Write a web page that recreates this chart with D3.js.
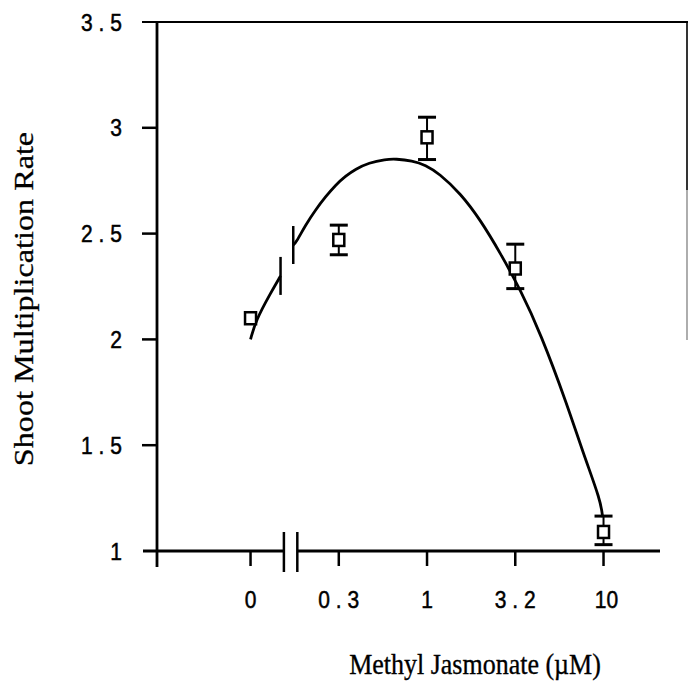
<!DOCTYPE html>
<html>
<head>
<meta charset="utf-8">
<script src="https://cdn.jsdelivr.net/npm/d3@7"></script>
<style>
  body { margin: 0; background: #fff; }
  svg { display: block; }
  .tick-label { font-family: "Liberation Sans", Arial, sans-serif; font-size: 21px; fill: #000; stroke: #000; stroke-width: 0.45px; }
  .axis-title { font-family: "Liberation Serif", "Times New Roman", serif; fill: #000; stroke: #000; stroke-width: 0.3px; }
</style>
</head>
<body>
<script>
// data (x positions are log10 of the concentration, 0 sits left of the break)
var concLabels = ["0", "0.3", "1", "3.2", "10"];
var concPos = [-1, -0.5, 0, 0.5, 1];
var rateMean = [2.10, 2.47, 2.955, 2.335, 1.09];
var rateHi = [2.10, 2.54, 3.05, 2.45, 1.165];
var rateLo = [2.10, 2.40, 2.85, 2.24, 1.03];

var yTicks = [1, 1.5, 2, 2.5, 3, 3.5];
var yTickLabels = ["1", "1.5", "2", "2.5", "3", "3.5"];

// fitted curve, read as points (before and after the axis break)
var fitPos1 = [-1, -0.97, -0.887, -0.83];
var fitVal1 = [2.00, 2.09, 2.218, 2.30];
var fitPos2 = [-0.758, -0.745, -0.688, -0.632, -0.575, -0.518, -0.462, -0.405, -0.33, -0.235, -0.178, -0.084, -0.008, 0.067, 0.19, 0.303, 0.416, 0.53, 0.643, 0.793, 0.888, 0.983, 0.995];
var fitVal2 = [2.446, 2.454, 2.541, 2.612, 2.674, 2.73, 2.772, 2.805, 2.835, 2.851, 2.853, 2.845, 2.824, 2.785, 2.69, 2.564, 2.407, 2.233, 2.029, 1.695, 1.454, 1.24, 1.16];

var axisBreak = [-0.811, -0.735];

var svgWidth = 689, svgHeight = 690;

var svg = d3.select("body")
  .append("svg")
  .attr("width", svgWidth)
  .attr("height", svgHeight);

// scales
var xScale = d3.scaleLinear().domain([-1.53, 1.32]).range([157, 660]);
var yScale = d3.scaleLinear().domain([1, 3.5]).range([551, 22]);

var ink = "#000";

// left axis line (runs a bit below the x axis)
svg.append("line")
  .attr("x1", xScale(-1.53)).attr("x2", xScale(-1.53))
  .attr("y1", yScale(3.5)).attr("y2", yScale(1) + 16)
  .attr("stroke", ink).attr("stroke-width", 2.8);

// top line at 3.5 and the cut-off right edge of the frame
svg.append("line")
  .attr("x1", 142).attr("x2", 688)
  .attr("y1", yScale(3.5)).attr("y2", yScale(3.5))
  .attr("stroke", ink).attr("stroke-width", 2.2);
svg.append("line")
  .attr("x1", 687).attr("x2", 687)
  .attr("y1", yScale(3.5) - 1).attr("y2", 190)
  .attr("stroke", ink).attr("stroke-width", 1.6);
svg.append("line")
  .attr("x1", 687).attr("x2", 687)
  .attr("y1", 190).attr("y2", 340)
  .attr("stroke", "#777").attr("stroke-width", 1.2);

// y ticks
svg.selectAll(".ytick")
  .data(yTicks.slice(1, -1))
  .enter()
  .append("line")
  .attr("x1", 142).attr("x2", xScale(-1.53))
  .attr("y1", d => yScale(d)).attr("y2", d => yScale(d))
  .attr("stroke", ink).attr("stroke-width", 2.5);

// y tick labels
svg.selectAll(".ylab")
  .data(yTicks)
  .enter()
  .append("g")
  .attr("transform", d => `translate(122, ${yScale(d) + 8.5}) scale(1, 1.15)`)
  .append("text")
  .attr("class", "tick-label")
  .attr("text-anchor", "end")
  .each(function(d, i) {
    var t = d3.select(this).text(yTickLabels[i]);
    if (yTickLabels[i].indexOf(".") >= 0) t.attr("textLength", 41).attr("lengthAdjust", "spacing");
  });

// x axis, broken between 0 and 0.3
svg.append("line")
  .attr("x1", 143).attr("x2", xScale(axisBreak[0]))
  .attr("y1", yScale(1)).attr("y2", yScale(1))
  .attr("stroke", ink).attr("stroke-width", 2.8);
svg.append("line")
  .attr("x1", xScale(axisBreak[1])).attr("x2", xScale(1.32))
  .attr("y1", yScale(1)).attr("y2", yScale(1))
  .attr("stroke", ink).attr("stroke-width", 2.8);
svg.selectAll(".xbreak")
  .data(axisBreak)
  .enter()
  .append("line")
  .attr("x1", d => xScale(d)).attr("x2", d => xScale(d))
  .attr("y1", yScale(1) - 19).attr("y2", yScale(1) + 21)
  .attr("stroke", ink).attr("stroke-width", 2.5);

// x ticks
svg.selectAll(".xtick")
  .data(concPos)
  .enter()
  .append("line")
  .attr("x1", d => xScale(d)).attr("x2", d => xScale(d))
  .attr("y1", yScale(1)).attr("y2", yScale(1) + 15)
  .attr("stroke", ink).attr("stroke-width", 2.5);

// x tick labels
svg.selectAll(".xlab")
  .data(concPos)
  .enter()
  .append("g")
  .attr("transform", (d, i) => `translate(${xScale(d) + (concLabels[i] === "10" ? 3 : 0)}, 608) scale(1, 1.15)`)
  .append("text")
  .attr("class", "tick-label")
  .attr("text-anchor", "middle")
  .each(function(d, i) {
    var t = d3.select(this).text(concLabels[i]);
    if (concLabels[i].indexOf(".") >= 0) t.attr("textLength", 41).attr("lengthAdjust", "spacing");
  });

// fitted curve, two pieces
var line = d3.line()
  .x(d => xScale(d[0]))
  .y(d => yScale(d[1]))
  .curve(d3.curveBasis);

var seg1 = fitPos1.map((p, i) => [p, fitVal1[i]]);
var seg2 = fitPos2.map((p, i) => [p, fitVal2[i]]);

[seg1, seg2].forEach(function(seg) {
  svg.append("path")
    .datum(seg)
    .attr("d", line)
    .attr("fill", "none")
    .attr("stroke", ink)
    .attr("stroke-width", 2.8);
});

// break bars on the curve ends
var curveEnds = [seg1[seg1.length - 1], seg2[0]];
svg.selectAll(".cbreak")
  .data(curveEnds)
  .enter()
  .append("line")
  .attr("x1", d => xScale(d[0])).attr("x2", d => xScale(d[0]))
  .attr("y1", d => yScale(d[1]) - 19).attr("y2", d => yScale(d[1]) + 19)
  .attr("stroke", ink).attr("stroke-width", 2.5);

// error bars
var errGroup = svg.selectAll(".err")
  .data(concPos.map((p, i) => ({p: p, m: rateMean[i], hi: rateHi[i], lo: rateLo[i]})).filter(d => d.hi > d.lo))
  .enter()
  .append("g");

errGroup.append("line")
  .attr("x1", d => xScale(d.p)).attr("x2", d => xScale(d.p))
  .attr("y1", d => yScale(d.hi)).attr("y2", d => yScale(d.lo))
  .attr("stroke", ink).attr("stroke-width", 2);
errGroup.append("line")
  .attr("x1", d => xScale(d.p) - 9).attr("x2", d => xScale(d.p) + 9)
  .attr("y1", d => yScale(d.hi)).attr("y2", d => yScale(d.hi))
  .attr("stroke", ink).attr("stroke-width", 3);
errGroup.append("line")
  .attr("x1", d => xScale(d.p) - 9).attr("x2", d => xScale(d.p) + 9)
  .attr("y1", d => yScale(d.lo)).attr("y2", d => yScale(d.lo))
  .attr("stroke", ink).attr("stroke-width", 3);

// open square markers
svg.selectAll(".pt")
  .data(concPos)
  .enter()
  .append("rect")
  .attr("x", d => xScale(d) - 5.5)
  .attr("y", (d, i) => yScale(rateMean[i]) - 6)
  .attr("width", 11)
  .attr("height", 12)
  .attr("fill", "#fff")
  .attr("stroke", ink)
  .attr("stroke-width", 2.5);

// axis titles
svg.append("g")
  .attr("transform", "translate(475, 674) scale(1, 1.15)")
  .append("text")
  .attr("class", "axis-title")
  .attr("text-anchor", "middle")
  .attr("font-size", 26)
  .text("Methyl Jasmonate (\u00b5M)");

svg.append("g")
  .attr("transform", "translate(33, 299) rotate(-90) scale(1.15, 1)")
  .append("text")
  .attr("class", "axis-title")
  .attr("text-anchor", "middle")
  .attr("font-size", 28)
  .text("Shoot Multiplication Rate");
</script>
</body>
</html>
